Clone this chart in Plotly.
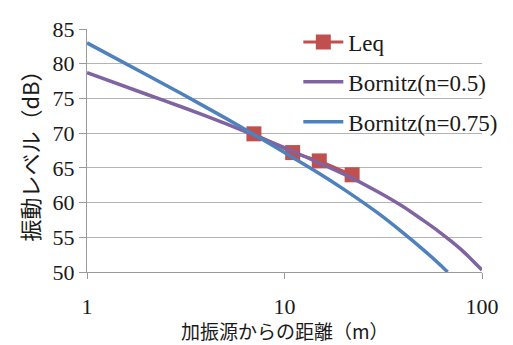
import plotly.graph_objects as go

# Data
leq_dist = [7.0, 11.0, 15.0, 22.0]
leq_vals = [69.9, 67.2, 66.0, 64.0]

b05_dist = [1, 2, 3, 5, 7, 10, 15, 20, 30, 40, 50, 60, 70, 80, 90, 100]
b05_vals = [78.7, 75.6, 73.8, 71.4, 69.7, 67.9, 65.7, 64.1, 61.5, 59.4, 57.5, 55.9, 54.4, 53.0, 51.6, 50.3]

b075_dist = [1, 2, 3, 5, 7, 10, 15, 20, 30, 40, 50, 60, 67]
b075_vals = [83.0, 78.4, 75.7, 72.2, 69.8, 67.2, 64.2, 61.9, 58.4, 55.6, 53.3, 51.3, 50.0]

x_ticks = [1, 10, 100]
y_ticks = [50, 55, 60, 65, 70, 75, 80, 85]
x_title = "加振源からの距離（m）"
y_title = "振動レベル（dB）"

SERIF = "Liberation Serif, DejaVu Serif, serif"
CJK = "Noto Sans CJK JP"

fig = go.Figure()
fig.add_trace(go.Scatter(
    x=leq_dist, y=leq_vals, name="Leq", mode="lines+markers",
    line=dict(color="#C0504D", width=3),
    marker=dict(symbol="square", size=15, color="#C0504D"),
    legendgroup="a"))
fig.add_trace(go.Scatter(
    x=b05_dist, y=b05_vals, name="Bornitz(n=0.5)", mode="lines",
    line=dict(color="#8064A2", width=3.5, shape="spline", smoothing=0.6),
    legendgroup="b"))
fig.add_trace(go.Scatter(
    x=b075_dist, y=b075_vals, name="Bornitz(n=0.75)", mode="lines",
    line=dict(color="#4F81BD", width=3.5, shape="spline", smoothing=0.6),
    legendgroup="c"))

fig.add_annotation(text=x_title, xref="paper", yref="paper", x=0.5, y=-0.24,
                   xanchor="center", yanchor="middle", showarrow=False,
                   font=dict(size=19, family=CJK, color="#1a1a1a"))

fig.update_layout(
    template="none",
    width=513, height=345,
    margin=dict(l=79, r=39, t=13, b=81),
    paper_bgcolor="white", plot_bgcolor="white",
    font=dict(family=SERIF, size=21, color="#1a1a1a"),
    showlegend=True,
    legend=dict(x=0.535, y=1.035, xanchor="left", yanchor="top",
                bgcolor="rgba(0,0,0,0)", font=dict(size=23, family=SERIF),
                tracegroupgap=7, itemwidth=40, borderwidth=0),
    xaxis=dict(type="log", range=[0, 2], tickvals=x_ticks,
               ticktext=[str(v) for v in x_ticks], automargin=False,
               showgrid=False, showline=True, linecolor="#9a9a9a", linewidth=1,
               ticks="outside", ticklen=6, tickcolor="#9a9a9a",
               ticklabelstandoff=9, tickfont=dict(family=SERIF, size=22),
               zeroline=False),
    yaxis=dict(range=[50, 85], tickvals=y_ticks, automargin=False,
               showgrid=True, gridcolor="#b4b4b4", gridwidth=1,
               showline=True, linecolor="#9a9a9a", linewidth=1,
               ticks="outside", ticklen=7, tickcolor="#9a9a9a",
               tickfont=dict(family=SERIF, size=22),
               title=dict(text=y_title, font=dict(size=22, family=CJK), standoff=6),
               zeroline=False),
)

fig.write_html("out.html")
